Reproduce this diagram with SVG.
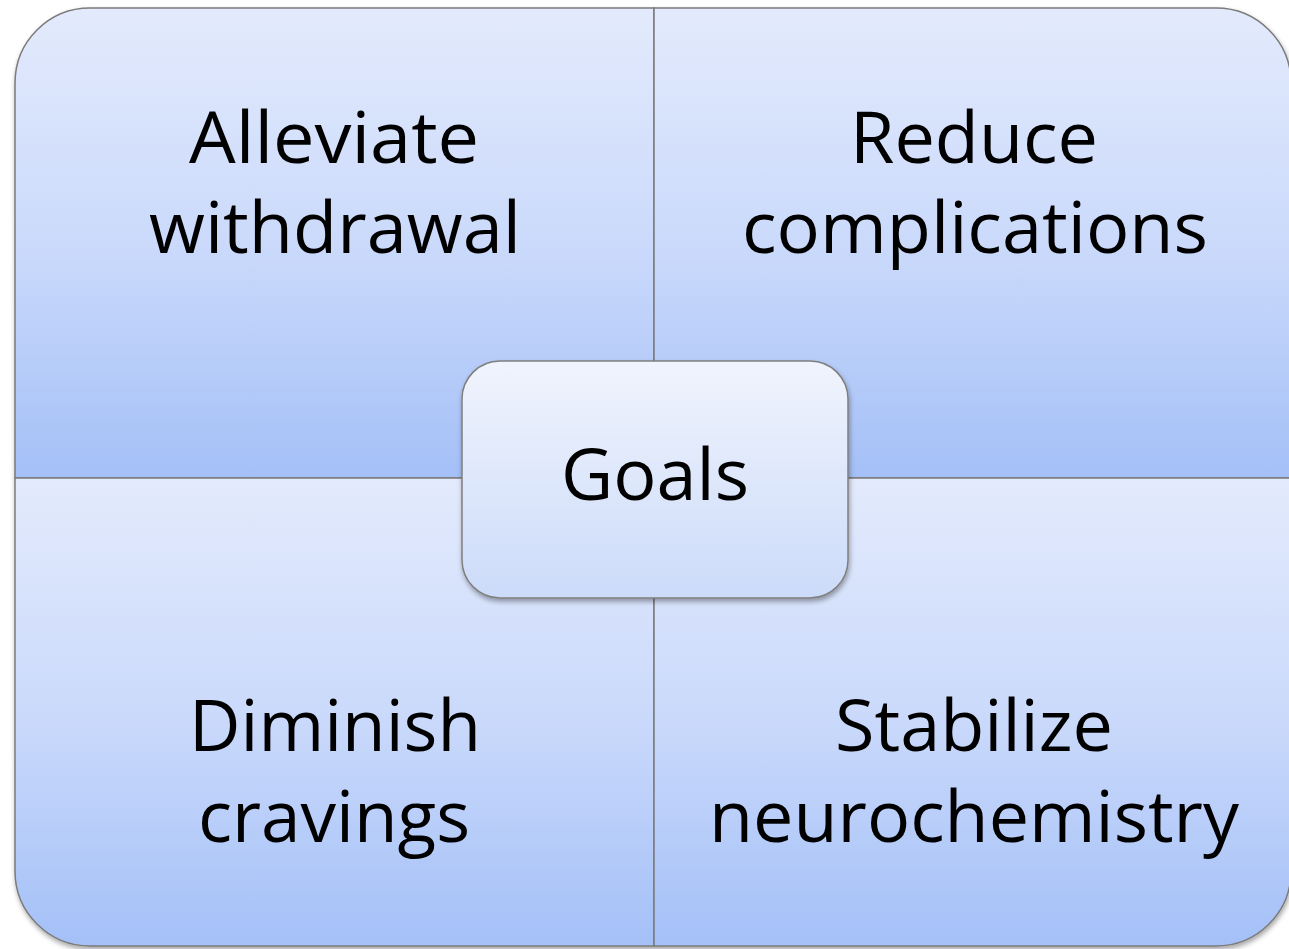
<svg xmlns="http://www.w3.org/2000/svg" width="1289" height="949" viewBox="0 0 1289 949">
  <defs>
    <linearGradient id="quadGrad" x1="0" y1="0" x2="0" y2="1">
      <stop offset="0" stop-color="#e3eafc"/>
      <stop offset="0.5" stop-color="#cbdafb"/>
      <stop offset="1" stop-color="#a4c0f7"/>
    </linearGradient>
    <linearGradient id="centerGrad" x1="0" y1="0" x2="0" y2="1">
      <stop offset="0" stop-color="#f0f4fd"/>
      <stop offset="1" stop-color="#ccdbf9"/>
    </linearGradient>
    <filter id="shadow" x="-5%" y="-5%" width="110%" height="112%">
      <feDropShadow dx="1" dy="3" stdDeviation="2.5" flood-color="#000" flood-opacity="0.35"/>
    </filter>
  </defs>
  <style>
    .quad { fill: url(#quadGrad); stroke: #7b7b7b; stroke-width: 1.5; }
    .center { fill: url(#centerGrad); stroke: #7f7f7f; stroke-width: 1.5; }
    .label { font-family: "Open Sans", "Liberation Sans", sans-serif; font-size: 72px; fill: #000; text-anchor: middle; }
  </style>
  <rect width="1289" height="949" fill="#ffffff"/>
  <g id="quadrants" filter="url(#shadow)">
    <g id="alleviate-withdrawal">
      <path class="quad" d="M15,83 A75,75 0 0 1 90,8 L654,8 L654,478 L15,478 Z"/>
      <text class="label" x="334" y="163" textLength="290" lengthAdjust="spacingAndGlyphs">Alleviate</text>
      <text class="label" x="335" y="253" textLength="372" lengthAdjust="spacingAndGlyphs">withdrawal</text>
    </g>
    <g id="reduce-complications">
      <path class="quad" d="M654,8 L1216,8 A75,75 0 0 1 1291,83 L1291,478 L654,478 Z"/>
      <text class="label" x="974" y="163" textLength="248" lengthAdjust="spacingAndGlyphs">Reduce</text>
      <text class="label" x="975" y="253" textLength="466" lengthAdjust="spacingAndGlyphs">complications</text>
    </g>
    <g id="diminish-cravings">
      <path class="quad" d="M15,478 L654,478 L654,946 L90,946 A75,75 0 0 1 15,871 Z"/>
      <text class="label" x="335" y="751" textLength="292" lengthAdjust="spacingAndGlyphs">Diminish</text>
      <text class="label" x="334" y="842" textLength="272" lengthAdjust="spacingAndGlyphs">cravings</text>
    </g>
    <g id="stabilize-neurochemistry">
      <path class="quad" d="M654,478 L1291,478 L1291,871 A75,75 0 0 1 1216,946 L654,946 Z"/>
      <text class="label" x="974" y="751" textLength="278" lengthAdjust="spacingAndGlyphs">Stabilize</text>
      <text class="label" x="974" y="842" textLength="530" lengthAdjust="spacingAndGlyphs">neurochemistry</text>
    </g>
  </g>
  <g id="connectors"/>
  <g id="goals" filter="url(#shadow)">
    <rect class="center" x="462" y="361" width="386" height="237" rx="38" ry="38"/>
    <text class="label" x="655" y="500" textLength="188" lengthAdjust="spacingAndGlyphs">Goals</text>
  </g>
</svg>
